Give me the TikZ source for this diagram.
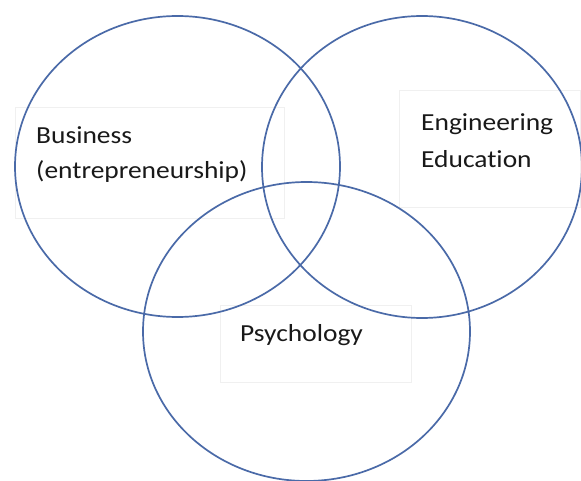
\documentclass[tikz,border=0pt]{standalone}
\usepackage{fontspec}
\setmainfont{Carlito}[FakeStretch=1.12,Ligatures={NoCommon}]
\usetikzlibrary{positioning}
\definecolor{vennblue}{RGB}{74,106,168}

\begin{document}
\begin{tikzpicture}[x=1pt,y=-1pt,
    venn/.style={draw=vennblue,line width=1.7pt},
    labelbox/.style={draw=black!6,line width=0.6pt,inner sep=0pt},
    label/.style={inner sep=0pt,align=left,text=black!90,font=\fontsize{24.5}{35}\selectfont}]
  \useasboundingbox[fill=white] (0,0) rectangle (581,481);
  \clip (0,0) rectangle (581,481);
% faint text frames
  \node[labelbox,anchor=north west,minimum width=269pt,minimum height=111pt] (bizbox) at (15,107) {};
  \node[labelbox,anchor=north west,minimum width=181pt,minimum height=117pt] (engbox) at (399,90) {};
  \node[labelbox,anchor=north west,minimum width=191pt,minimum height=77pt] (psybox) at (220,305) {};
  \node[label,below right=19pt and 21pt of bizbox.north west] (biz) {Business\\(entrepreneurship)};
  \node[label,below right=23pt and 22pt of engbox.north west,font=\fontsize{24.5}{37}\selectfont] (eng) {Engineering\\Education};
  \node[label,below right=19pt and 20pt of psybox.north west] (psy) {Psychology};
% the three circles
  \draw[venn] (177.5,166.5) ellipse [x radius=162.5,y radius=150.5];
  \draw[venn] (422,167) ellipse [x radius=160,y radius=151];
  \draw[venn] (306.5,331.5) ellipse [x radius=163.5,y radius=149.5];
\end{tikzpicture}
\end{document}
